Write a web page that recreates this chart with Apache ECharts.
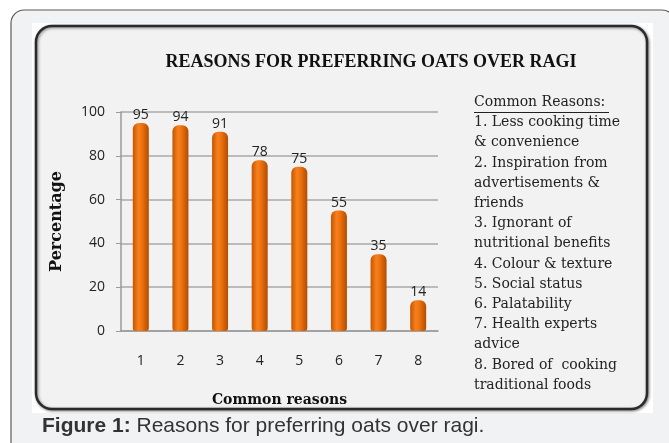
<!DOCTYPE html>
<html>
<head>
<meta charset="utf-8">
<script src="https://cdn.jsdelivr.net/npm/echarts@6/dist/echarts.min.js"></script>
<style>
  html, body { margin: 0; padding: 0; background: #fff; }
  #main { width: 669px; height: 443px; }
</style>
</head>
<body>
<div id="main"></div>
<script>
// data
var categories = ['1', '2', '3', '4', '5', '6', '7', '8'];
var values = [95, 94, 91, 78, 75, 55, 35, 14];
var yTicks = [0, 20, 40, 60, 80, 100];
var reasonLines = [
    '1. Less cooking time',
    '& convenience',
    '2. Inspiration from',
    'advertisements &',
    'friends',
    '3. Ignorant of',
    'nutritional benefits',
    '4. Colour & texture',
    '5. Social status',
    '6. Palatability',
    '7. Health experts',
    'advice',
    '8. Bored of  cooking',
    'traditional foods'
];

var serif = '"DejaVu Serif", "Liberation Serif", serif';
var sans = '"Open Sans", sans-serif';

//背景框
var graphics = [
    {
        type: 'rect', z: -10,
        shape: {x: 11, y: 10, width: 664, height: 460, r: 13},
        style: {fill: '#f1f2f4', stroke: '#5a5a5a', lineWidth: 1.2}
    },
    {
        type: 'rect', z: -9,
        shape: {x: 32, y: 23, width: 621, height: 390},
        style: {fill: '#ffffff'}
    },
    {
        type: 'rect', z: -8,
        shape: {x: 36, y: 26, width: 611, height: 383, r: 16},
        style: {
            fill: '#f2f2f2', stroke: '#2a2a2a', lineWidth: 2.5,
            shadowBlur: 3, shadowColor: 'rgba(0,0,0,0.45)', shadowOffsetX: 1, shadowOffsetY: 1
        }
    },
    {
        type: 'text', left: 42, top: 416,
        style: {
            text: '{b|Figure 1:} Reasons for preferring oats over ragi.',
            rich: {
                b: {fontWeight: 'bold', fontSize: 21, fontFamily: '"Liberation Sans", Arial, sans-serif', fill: '#333'}
            },
            fontSize: 21, fontFamily: '"Liberation Sans", Arial, sans-serif', fill: '#333'
        }
    },
    // legend heading
    {
        type: 'text', left: 474, top: 95,
        style: {text: 'Common Reasons:', font: '14px ' + serif, fill: '#222'}
    },
    {
        type: 'line',
        shape: {x1: 474, y1: 112.5, x2: 609, y2: 112.5},
        style: {stroke: '#222', lineWidth: 1}
    }
];

reasonLines.forEach(function (line, i) {
    graphics.push({
        type: 'text', left: 474, top: 115.5 + i * 20.2,
        style: {text: line, font: '14px ' + serif, fill: '#222'}
    });
});

var box = document.getElementById('main');
var myChart = echarts.init(box);

var option = {
    backgroundColor: '#ffffff',
    animation: false,
    title: {
        text: 'REASONS FOR PREFERRING OATS OVER RAGI',
        left: 366,
        textAlign: 'center',
        top: 48,
        textStyle: {fontFamily: '"Liberation Serif", serif', fontWeight: 'bold', fontSize: 18, color: '#111'}
    },
    grid: {left: 121, right: 231, top: 112, bottom: 112},
    graphic: graphics,
    xAxis: {
        type: 'category',
        data: categories,
        name: 'Common reasons',
        nameLocation: 'middle',
        nameGap: 62,
        nameTextStyle: {fontFamily: serif, fontWeight: 'bold', fontSize: 14, color: '#111'},
        axisLine: {lineStyle: {color: '#9a9a9a', width: 1.5}},
        axisTick: {show: false},
        axisLabel: {margin: 23, fontSize: 14, color: '#222', fontFamily: sans}
    },
    yAxis: {
        type: 'value',
        min: yTicks[0],
        max: yTicks[yTicks.length - 1],
        interval: 20,
        name: 'Percentage',
        nameLocation: 'middle',
        nameGap: 56,
        nameTextStyle: {fontFamily: serif, fontWeight: 'bold', fontSize: 16, color: '#111'},
        axisLine: {show: true, lineStyle: {color: '#9a9a9a', width: 1.5}},
        axisTick: {show: true, length: 5, lineStyle: {color: '#9a9a9a'}},
        axisLabel: {margin: 16, fontSize: 14, color: '#222', fontFamily: sans},
        splitLine: {lineStyle: {color: '#a8a8a8', width: 1.5}}
    },
    series: [{
        type: 'bar',
        data: values,
        barWidth: 16,
        itemStyle: {
            borderRadius: [6, 6, 3, 3],
            color: new echarts.graphic.LinearGradient(0, 0, 1, 0, [
                {offset: 0, color: '#c45500'},
                {offset: 0.35, color: '#f7801c'},
                {offset: 0.55, color: '#ef7410'},
                {offset: 1, color: '#b34c00'}
            ])
        },
        label: {
            show: true,
            position: 'top',
            distance: 1,
            fontSize: 14,
            color: '#222',
            fontFamily: sans
        }
    }]
};

myChart.setOption(option);
</script>
</body>
</html>
